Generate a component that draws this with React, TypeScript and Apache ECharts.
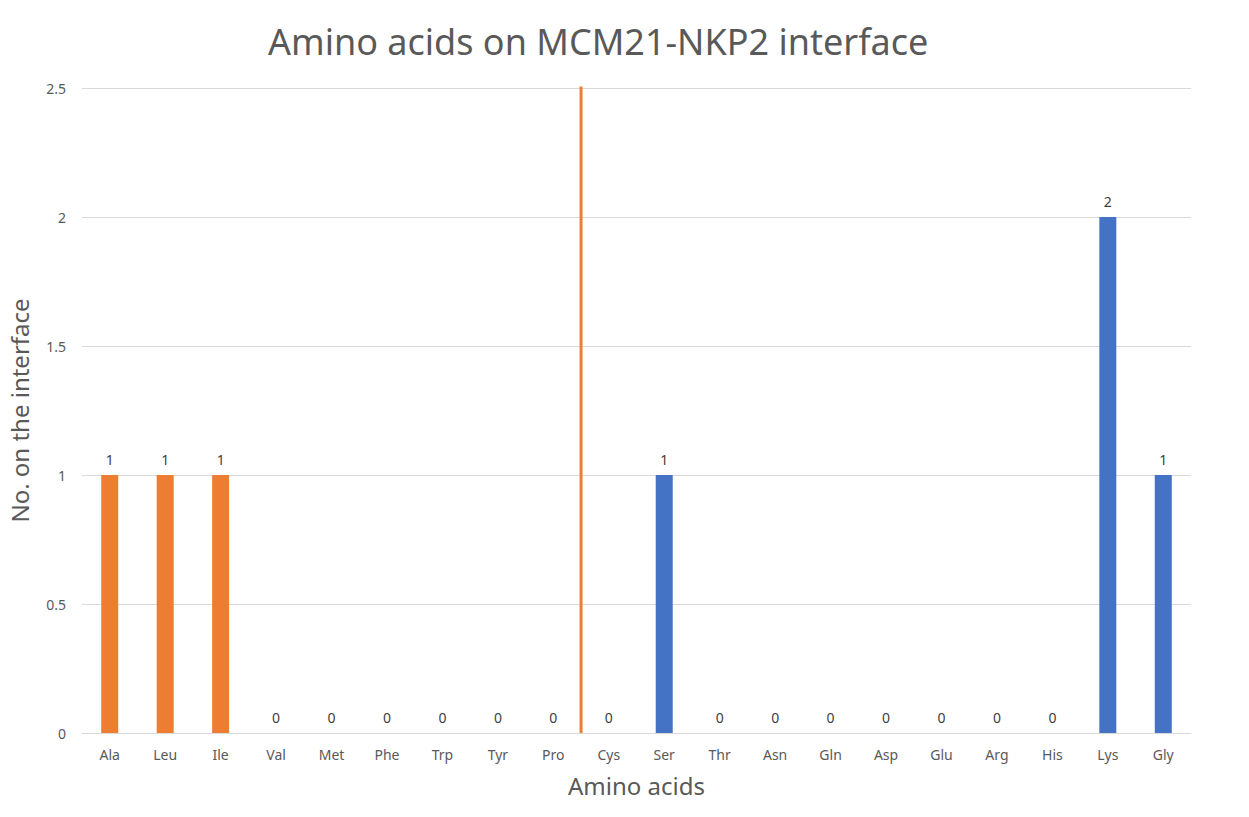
import React, { useEffect, useRef } from "react";
import * as echarts from "echarts";

const categories = ["Ala","Leu","Ile","Val","Met","Phe","Trp","Tyr","Pro","Cys","Ser","Thr","Asn","Gln","Asp","Glu","Arg","His","Lys","Gly"];
const counts = [1,1,1,0,0,0,0,0,0,0,1,0,0,0,0,0,0,0,2,1];
const groupOf = ["A","A","A","A","A","A","A","A","A","B","B","B","B","B","B","B","B","B","B","B"];
const dividerLine = [[9, 0], [9, 2.51]];
const yTicks = { min: 0, max: 2.5, interval: 0.5 };

const ORANGE = "#ED7D31";
const BLUE = "#4472C4";
const FONT = "'Noto Sans', 'Open Sans', sans-serif";

export default function App() {
  const ref = useRef<HTMLDivElement>(null);
  useEffect(() => {
    document.body.style.margin = "0";
    const chart = echarts.init(ref.current!, null, { renderer: "svg" });
    chart.setOption({
      animation: false,
      backgroundColor: "#ffffff",
      title: {
        text: "Amino acids on MCM21-NKP2 interface",
        left: 263,
        top: 18,
        textStyle: { fontFamily: FONT, fontSize: 36, fontWeight: "normal", color: "#595959" },
      },
      grid: { left: 82, right: 58, top: 88, bottom: 84, containLabel: false, outerBoundsMode: "none" },
      xAxis: [
        {
          type: "category",
          data: categories,
          name: "Amino acids",
          nameLocation: "middle",
          nameGap: 40,
          nameTextStyle: { fontFamily: FONT, fontSize: 24, color: "#595959" },
          axisLine: { lineStyle: { color: "#D9D9D9", width: 1 } },
          axisTick: { show: false },
          axisLabel: { fontFamily: FONT, fontSize: 14, color: "#595959", margin: 14 },
        },
        {
          type: "value",
          min: 0,
          max: 20,
          show: false,
        },
      ],
      yAxis: {
        type: "value",
        min: yTicks.min,
        max: yTicks.max,
        interval: yTicks.interval,
        name: "No. on the interface",
        nameLocation: "middle",
        nameGap: 51,
        nameTextStyle: { fontFamily: FONT, fontSize: 24, color: "#595959" },
        axisLine: { show: false },
        axisTick: { show: false },
        axisLabel: { fontFamily: FONT, fontSize: 14, color: "#595959", margin: 16 },
        splitLine: { lineStyle: { color: "#D9D9D9", width: 1 } },
      },
      series: [
        {
          type: "bar",
          xAxisIndex: 0,
          barWidth: 17,
          data: counts.map((v, i) => ({
            value: v,
            itemStyle: { color: groupOf[i] === "A" ? ORANGE : BLUE },
          })),
          label: {
            show: true,
            position: "top",
            distance: 9,
            fontFamily: FONT,
            fontSize: 14,
            color: "#404040",
          },
        },
        {
          type: "line",
          xAxisIndex: 1,
          data: dividerLine,
          symbol: "none",
          lineStyle: { color: ORANGE, width: 3 },
          silent: true,
        },
      ],
    });
    return () => chart.dispose();
  }, []);
  return <div ref={ref} style={{ width: 1249, height: 817 }} />;
}
